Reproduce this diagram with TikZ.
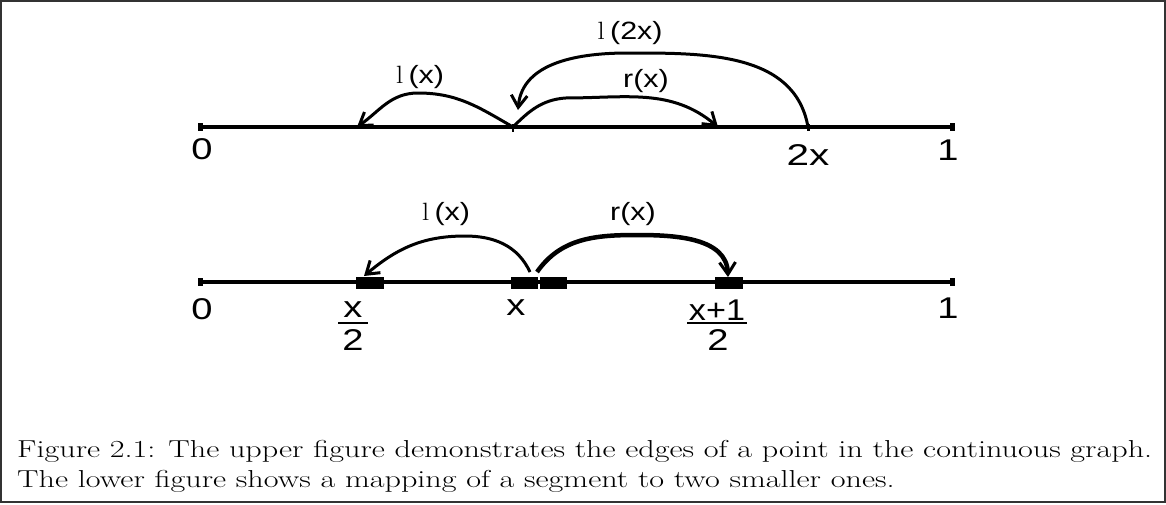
\documentclass[tikz,border=0pt]{standalone}
\usepackage{fontspec}
\setsansfont{Liberation Sans}
\usetikzlibrary{arrows.meta}
\newcommand{\wdr}[2][1.27]{\scalebox{#1}[1]{#2}}
\begin{document}
\begin{tikzpicture}[x=1pt,y=-1pt,
  axis/.style={line width=3.5pt},
  endcap/.style={fill, minimum width=5pt, minimum height=8pt, inner sep=0pt},
  blk/.style={fill, minimum width=28pt, minimum height=12pt, inner sep=0pt},
  edge/.style={line width=3pt, -{Straight Barb[length=12pt,width=16pt,line width=3pt]}},
  num/.style={font=\sffamily\fontsize{30}{32}\selectfont, inner sep=0pt},
  lab/.style={font=\fontsize{25}{27}\selectfont, inner sep=0pt},
  captext/.style={font=\rmfamily\fontsize{24.5}{30}\selectfont, inner sep=0pt, anchor=west}]
\useasboundingbox (0,0) rectangle (1166,504);
\draw[line width=1.5pt, black!80] (1,1) rectangle (1165,502);

% ---------- upper figure ----------
\node[endcap] (u0) at (200,127) {};
\node[endcap] (u1) at (952,127) {};
\draw[axis] (u0.center) -- (u1.center);
\coordinate (um) at (513,127);
\coordinate (u2x) at (808,127);
\coordinate (ul) at (357,127);
\coordinate (ur) at (718,127);
\coordinate (ulx) at (518,110);
\draw[line width=2pt] (513,124) -- (513,132);
\draw[line width=3pt] (808,124) -- (808,131);
\node[num] at (202,149) {\wdr{0}};
\node[num] at (948,150) {\wdr{1}};
\node[num] at (808,155) {\wdr[1.35]{2x}};

\draw[edge] (um) to[out=150,in=0] (418,93) to[out=180,in=35] (ul);
\draw[edge] (um) to[out=45,in=185] (565,98) to[out=0,in=140] (ur);
\draw[edge] (u2x) to[out=100,in=0] (628,53) to[out=180,in=85] (ulx);
\node[lab] at (420,77) {\wdr[1.22]{{\rmfamily l}\,\sffamily(x)}};
\node[lab] at (646,81) {\wdr[1.22]{\sffamily r(x)}};
\node[lab] at (630,33) {\wdr[1.22]{{\rmfamily l}\,\sffamily(2x)}};

% ---------- lower figure ----------
\node[endcap] (d0) at (200,282) {};
\node[endcap] (d1) at (952,282) {};
\draw[axis] (d0.center) -- (d1.center);
\node[blk] (bh) at (370,283) {};
\node[blk, minimum width=27pt] (bxa) at (524,283) {};
\node[blk, minimum width=27pt] (bxb) at (553,283) {};
\node[blk] (bp) at (729,283) {};
\node[num] at (202,309) {\wdr{0}};
\node[num] at (948,308) {\wdr{1}};
\node[num] at (516,308) {\wdr{x}};
\node[num] (fx) at (353,310) {\wdr{x}};
\draw[line width=2pt] (338,323) -- (368,323);
\node[num] at (353,340) {\wdr{2}};
\node[num] (fxp) at (717,310) {\wdr[1.14]{x+1}};
\draw[line width=2pt] (687,323) -- (747,323);
\node[num] at (718,340) {\wdr{2}};

\coordinate (ls) at (530,272);
\coordinate (rs) at (537,272);
\coordinate (le) at (364,276);
\coordinate (re) at (728,277);
\draw[edge] (ls) to[out=115,in=0] (465,236) to[out=180,in=40] (le);
\draw[edge, line width=4.5pt] (rs) to[out=55,in=180] (637,235) to[out=0,in=92] (re);
\node[lab] at (446,214) {\wdr[1.22]{{\rmfamily l}\,\sffamily(x)}};
\node[lab] at (633,214) {\wdr[1.22]{\sffamily r(x)}};

% ---------- caption ----------
\node[captext] (capt) at (17,466) {\scalebox{1.312}[1]{\parbox{900pt}{Figure 2.1: The upper figure demonstrates the edges of a point in the continuous graph.\\
The lower figure shows a mapping of a segment to two smaller ones.}}};
\end{tikzpicture}
\end{document}
